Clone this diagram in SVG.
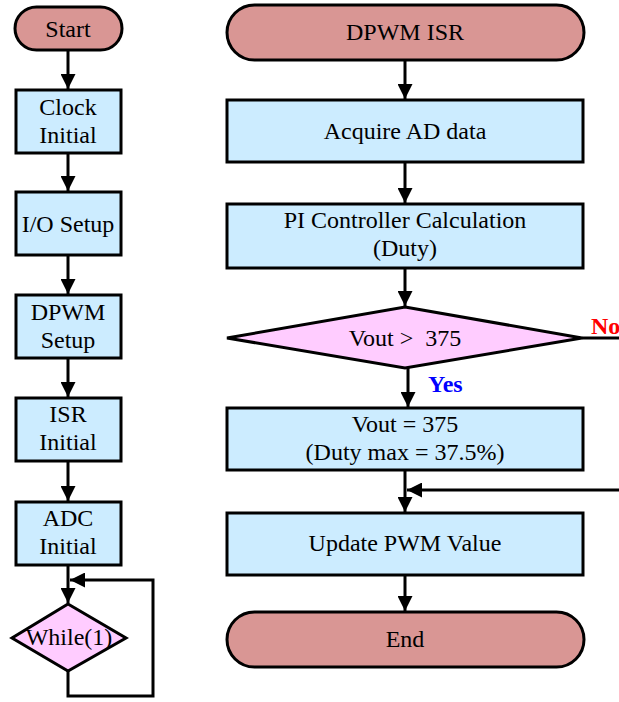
<svg xmlns="http://www.w3.org/2000/svg" width="619" height="702" viewBox="0 0 619 702">
<style>
.t{fill:#D99694;stroke:#000;stroke-width:3}
.b{fill:#CCECFF;stroke:#000;stroke-width:3}
.d{fill:#FFCCFF;stroke:#000;stroke-width:3}
text{font-family:"Liberation Serif","Times New Roman",serif;font-size:24px;fill:#000;text-anchor:middle}
.c{fill:none;stroke:#000;stroke-width:3}
</style>
<defs>
<marker id="a" viewBox="0 0 10 10" refX="10" refY="5" markerWidth="5" markerHeight="5" orient="auto" markerUnits="strokeWidth">
<path d="M0,0 L10,5 L0,10 z" fill="#000"/>
</marker>
</defs>
<rect width="619" height="702" fill="#fff"/>
<g id="connectors">
<line class="c" x1="68" y1="50" x2="68" y2="89" marker-end="url(#a)"/>
<line class="c" x1="68" y1="153" x2="68" y2="191" marker-end="url(#a)"/>
<line class="c" x1="68" y1="255" x2="68" y2="294" marker-end="url(#a)"/>
<line class="c" x1="68" y1="358" x2="68" y2="397" marker-end="url(#a)"/>
<line class="c" x1="68" y1="461" x2="68" y2="501" marker-end="url(#a)"/>
<line class="c" x1="68" y1="565" x2="68" y2="603" marker-end="url(#a)"/>
<polyline class="c" points="68,671 68,696 153,696 153,580 70,580" marker-end="url(#a)"/>
<line class="c" x1="405" y1="60" x2="405" y2="99" marker-end="url(#a)"/>
<line class="c" x1="405" y1="162" x2="405" y2="203" marker-end="url(#a)"/>
<line class="c" x1="405" y1="268" x2="405" y2="306" marker-end="url(#a)"/>
<line class="c" x1="408" y1="368" x2="408" y2="407" marker-end="url(#a)"/>
<line class="c" x1="405" y1="470" x2="405" y2="512" marker-end="url(#a)"/>
<line class="c" x1="582" y1="338" x2="619" y2="338"/>
<line class="c" x1="619" y1="490" x2="407" y2="490" marker-end="url(#a)"/>
<line class="c" x1="405" y1="575" x2="405" y2="611" marker-end="url(#a)"/>
</g>
<g id="start"><rect class="t" x="15" y="7" width="107" height="43" rx="21.5"/><text x="68" y="37">Start</text></g>
<g id="clock"><rect class="b" x="16" y="90" width="105" height="63"/><text x="68" y="115">Clock</text><text x="68" y="143">Initial</text></g>
<g id="io"><rect class="b" x="16" y="192" width="105" height="63"/><text x="68" y="232">I/O Setup</text></g>
<g id="dpwm"><rect class="b" x="16" y="295" width="105" height="63"/><text x="68" y="320">DPWM</text><text x="68" y="348">Setup</text></g>
<g id="isr"><rect class="b" x="16" y="398" width="105" height="63"/><text x="68" y="422">ISR</text><text x="68" y="450">Initial</text></g>
<g id="adc"><rect class="b" x="16" y="502" width="105" height="63"/><text x="68" y="526">ADC</text><text x="68" y="554">Initial</text></g>
<g id="while"><polygon class="d" points="68,604 126,638 68,671 12,638"/><text x="69" y="645">While(1)</text></g>
<g id="dpwmisr"><rect class="t" x="227" y="5" width="357" height="55" rx="27.5"/><text x="405" y="40">DPWM ISR</text></g>
<g id="acquire"><rect class="b" x="227" y="100" width="356" height="62"/><text x="405" y="139">Acquire AD data</text></g>
<g id="pi"><rect class="b" x="227" y="204" width="356" height="64"/><text x="405" y="228">PI Controller Calculation</text><text x="405" y="256">(Duty)</text></g>
<g id="cond"><polygon class="d" points="405,307 582,338 405,368 227,338"/><text x="405" y="346" xml:space="preserve">Vout &gt;  375</text></g>
<text x="591" y="334" style="fill:#FF0000;font-weight:bold;text-anchor:start">No</text>
<text x="428" y="392" style="fill:#0000FF;font-weight:bold;text-anchor:start">Yes</text>
<g id="clamp"><rect class="b" x="227" y="408" width="356" height="62"/><text x="405" y="432">Vout = 375</text><text x="405" y="460">(Duty max = 37.5%)</text></g>
<g id="update"><rect class="b" x="227" y="513" width="356" height="62"/><text x="405" y="551">Update PWM Value</text></g>
<g id="end"><rect class="t" x="227" y="612" width="357" height="55" rx="27.5"/><text x="405" y="647">End</text></g>
</svg>
